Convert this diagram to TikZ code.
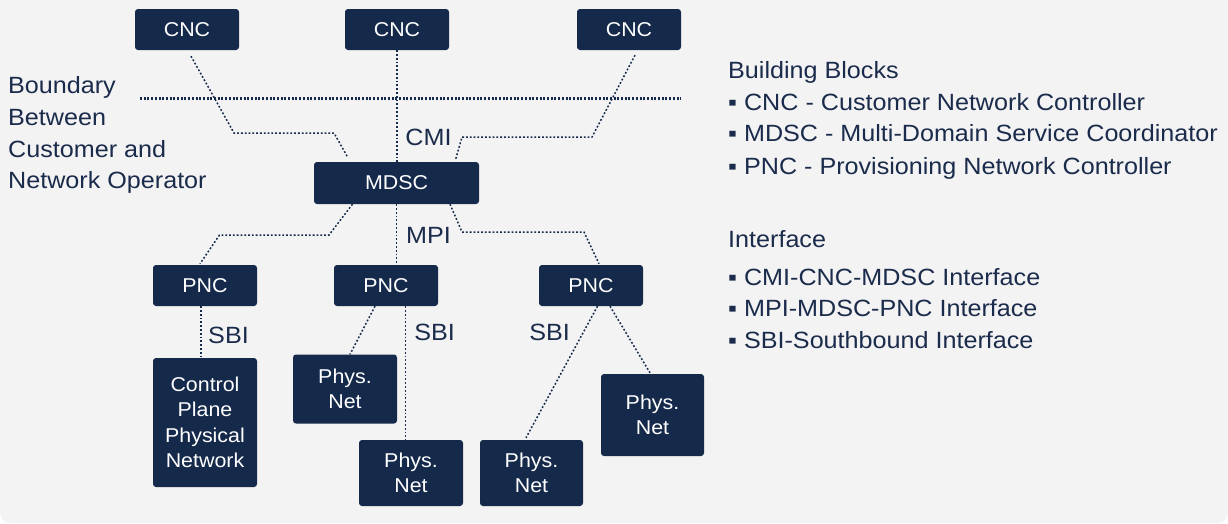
\documentclass[tikz,border=0pt]{standalone}
\usepackage{fontspec}
\setmainfont{Liberation Sans}[FakeStretch=1.07]
\usetikzlibrary{calc}
\definecolor{navy}{HTML}{15294B}
\definecolor{ink}{HTML}{1B2B4B}
\definecolor{paper}{HTML}{F3F3F3}
\begin{document}
\begin{tikzpicture}[x=1pt,y=-1pt,
  blk/.style={fill=navy, rounded corners=3pt, text=white,
    font=\fontsize{20}{25.5}\selectfont, align=center, inner sep=0pt,
    minimum width=104pt},
  conn/.style={draw=navy, line width=1.5pt, dash pattern=on 1.8pt off 2pt},
  boundary/.style={draw=navy, line width=3pt, dash pattern=on 2pt off 1.7pt},
  lbl/.style={text=ink, font=\fontsize{23.5}{31.7}\selectfont, inner sep=0pt}]

% canvas
\useasboundingbox (0,0) rectangle (1228,523);
\begin{scope}
  \clip (0,0) rectangle (1228,523);
  \fill[paper, rounded corners=10pt] (0,-20) rectangle (1228,523);
\end{scope}

% customer/operator boundary
\coordinate (bL) at (140,98);
\coordinate (bR) at (681,98);
\draw[boundary] (bL) -- (bR);

% controllers
\node[blk, minimum height=41pt] (cnc1) at (187,29.5) {CNC};
\node[blk, minimum height=41pt] (cnc2) at (397,29.5) {CNC};
\node[blk, minimum height=41pt] (cnc3) at (629,29.5) {CNC};
\node[blk, minimum height=42pt, minimum width=165pt] (mdsc) at (396.5,183) {MDSC};
\node[blk, minimum height=41pt] (pnc1) at (205,285.5) {PNC};
\node[blk, minimum height=41pt] (pnc2) at (386,285.5) {PNC};
\node[blk, minimum height=41pt] (pnc3) at (591,285.5) {PNC};

% networks
\node[blk, minimum height=129pt] (ctrl) at (205,422.5) {Control\\Plane\\Physical\\Network};
\node[blk, minimum height=69pt] (phys1) at (345,389) {Phys.\\Net};
\node[blk, minimum height=66pt] (phys2) at (411,473) {Phys.\\Net};
\node[blk, minimum height=66pt, minimum width=103pt] (phys3) at (531.5,473) {Phys.\\Net};
\node[blk, minimum height=82pt, minimum width=103pt] (phys4) at (652.5,415) {Phys.\\Net};

% CMI links
\draw[conn] ([xshift=4pt,yshift=-6pt]cnc1.south) -- (234,133) -- (334,133)
  -- ([xshift=-48.5pt,yshift=4pt]mdsc.north);
\draw[conn] (cnc2.south) -- (cnc2.south |- mdsc.north);
\draw[conn] ([xshift=6pt,yshift=-5pt]cnc3.south) -- (592,137) -- (462,137)
  -- ([xshift=59pt,yshift=2pt]mdsc.north);

% MPI links
\draw[conn] ([xshift=-44pt]mdsc.south) -- (329,235) -- (219.5,235)
  -- ([xshift=-5pt,yshift=1pt]pnc1.north);
\draw[conn] (mdsc.south) -- (mdsc.south |- pnc2.north);
\draw[conn] ([xshift=53.5pt]mdsc.south) -- (462,232) -- (584,232)
  -- ([xshift=8pt,yshift=1pt]pnc3.north);

% SBI links
\draw[conn] ([xshift=-4pt]pnc1.south) -- ([xshift=-4pt]ctrl.north);
\draw[conn] ([xshift=-11pt]pnc2.south) -- ([xshift=5pt]phys1.north);
\draw[conn] ([xshift=19.5pt]pnc2.south) -- ([xshift=-5.5pt]phys2.north);
\draw[conn] ([xshift=6.5pt]pnc3.south) -- ([xshift=-5.5pt,yshift=2pt]phys3.north);
\draw[conn] ([xshift=19pt]pnc3.south) -- ([xshift=-2.5pt,yshift=1pt]phys4.north);

% interface labels
\node[lbl, anchor=base] (cmi) at (428.5,145) {CMI};
\node[lbl, anchor=base] (mpi) at (428.5,243) {MPI};
\node[lbl, anchor=base] (sbi1) at (228.5,343) {SBI};
\node[lbl, anchor=base] (sbi2) at (434.6,340) {SBI};
\node[lbl, anchor=base] (sbi3) at (549.6,340) {SBI};

% boundary caption
\node[lbl, anchor=base west] (bd1) at (8,93) {Boundary};
\node[lbl, anchor=base west] (bd2) at (8,125) {Between};
\node[lbl, anchor=base west] (bd3) at (8,157) {Customer and};
\node[lbl, anchor=base west] (bd4) at (8,188) {Network Operator};

% legend
\node[lbl, anchor=base west] (lg1) at (728,78.3) {Building Blocks};
\node[lbl, anchor=base west] (lg2) at (728,110) {▪ CNC - Customer Network Controller};
\node[lbl, anchor=base west] (lg3) at (728,141.7) {▪ MDSC - Multi-Domain Service Coordinator};
\node[lbl, anchor=base west] (lg4) at (728,174) {▪ PNC - Provisioning Network Controller};
\node[lbl, anchor=base west] (lg5) at (728,247.3) {Interface};
\node[lbl, anchor=base west] (lg6) at (728,285) {▪ CMI-CNC-MDSC Interface};
\node[lbl, anchor=base west] (lg7) at (728,316.7) {▪ MPI-MDSC-PNC Interface};
\node[lbl, anchor=base west] (lg8) at (728,348.3) {▪ SBI-Southbound Interface};
\end{tikzpicture}
\end{document}
